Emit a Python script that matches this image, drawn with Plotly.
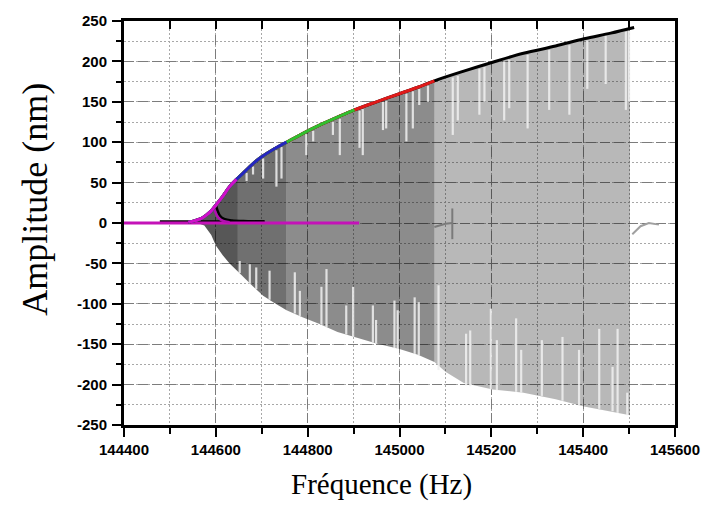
import numpy as np
import plotly.graph_objects as go

# ---------------- data ----------------
# Upper (stable) branch of the response curve: frequency (Hz) / amplitude (nm)
bb_freq = [144540, 144555, 144570, 144580, 144590, 144600, 144615, 144630, 144645,
           144660, 144680, 144700, 144725, 144754, 144790, 144826, 144865, 144902,
           144950, 145000, 145040, 145076, 145140, 145203, 145270, 145340, 145402,
           145460, 145511]
bb_amp = [1, 3, 6, 10, 15, 22, 33, 45, 54, 62, 73, 82, 91, 100, 111, 121, 131, 140,
          150, 160, 168, 176, 188, 199, 210, 219, 228, 235, 242]

# end frequency of each coloured sweep (drawn from longest to shortest)
sweep_names = ["black", "red", "green", "blue", "magenta"]
sweep_end = [145511, 145076, 144902, 144754, 144645]
sweep_colors = ["#000000", "#e01a1a", "#2fbf2f", "#2626c0", "#d010c8"]

# lower branches near zero
zero_magenta_f = [144400, 144912]
zero_magenta_a = [0, 0]
zero_black_f = [144478, 144706]
zero_black_a = [1.8, 1.8]
fork_black_f = [144600, 144604, 144609, 144618, 144635, 144670, 144706]
fork_black_a = [22, 15, 9, 5, 3, 2.2, 1.8]
fork_mag_f = [144596, 144600, 144605, 144614, 144630]
fork_mag_a = [18, 12, 7, 3, 1]

# envelope of the recorded time signal (grey area)
env_freq = [144560, 144575, 144590, 144600, 144615, 144630, 144648, 144660, 144680,
            144703, 144725, 144754, 144790, 144826, 144865, 144902, 144950, 145000,
            145040, 145076, 145100, 145140, 145203, 145270, 145340, 145402, 145460,
            145502]
env_upper = [3.5, 8, 15, 22, 33, 45, 55, 62, 73, 83, 91, 100, 111, 121, 131, 140,
             150, 160, 168, 176, 180, 188, 199, 210, 219, 228, 235, 241]
env_lower = [0, -3, -15, -28, -40, -50, -60, -66, -78, -90, -98, -108, -117, -125,
             -135, -141, -149, -156, -163, -172, -184, -198, -206, -210, -218, -227,
             -233, -238]
region_edges = [144560, 144648, 144754, 145076, 145502]
region_fill = ["rgba(0,0,0,0.66)", "rgba(0,0,0,0.56)", "rgba(0,0,0,0.45)",
               "rgba(0,0,0,0.28)"]

# white drop-outs in the signal, from the top edge
up_streak_f = [144667, 144681, 144703, 144732, 144743, 144797, 144812, 144855, 144870,
               144913, 144920, 144964, 144971, 145015, 145029, 145043, 145062, 145116,
               145127, 145174, 145185, 145228, 145239, 145279, 145326, 145370, 145409,
               145449, 145493, 145500]
up_streak_top = [62, 70, 80, 90, 94, 110, 114, 125, 129, 139, 141, 150, 151, 160, 163,
                 166, 170, 180, 182, 191, 193, 200, 202, 208, 214, 220, 226, 232, 237, 238]
up_streak_bot = [52, 60, 55, 45, 55, 84, 101, 109, 84, 93, 84, 115, 117, 101, 117,
                 146, 150, 109, 127, 134, 150, 127, 142, 117, 140, 134, 166, 172, 140, 150]
# white drop-outs from the bottom edge
lo_streak_f = [144652, 144674, 144688, 144717, 144772, 144783, 144830, 144841, 144884,
               144899, 144942, 144949, 144989, 144996, 145033, 145042, 145085, 145145,
               145154, 145199, 145212, 145254, 145265, 145310, 145355, 145391, 145435,
               145464, 145475, 145496]
lo_streak_top = [-47, -51, -55, -59, -61, -84, -79, -57, -102, -79, -102, -120, -96,
                 -108, -92, -98, -77, -137, -133, -106, -145, -118, -157, -145, -141,
                 -157, -131, -178, -131, -210]
lo_streak_bot = [-62, -75, -82, -95, -112, -115, -126, -129, -138, -141, -148, -149,
                 -155, -156, -162, -164, -182, -201, -202, -206, -207, -209, -210,
                 -214, -220, -226, -230, -233, -235, -238]

# small stray traces
stray1_f = [145076, 145100, 145115]
stray1_a = [-5, -1, 0]
stray2_f = [145115, 145115]
stray2_a = [18, -20]
stray3_f = [145507, 145525, 145543, 145565]
stray3_a = [-14, -4, 0, -2]

x_tick_vals = [144400, 144600, 144800, 145000, 145200, 145400, 145600]
y_tick_vals = [-250, -200, -150, -100, -50, 0, 50, 100, 150, 200, 250]

# ---------------- figure ----------------
fig = go.Figure()

ef = np.array(env_freq)
eu = np.array(env_upper)
el = np.array(env_lower)
for i in range(len(region_fill)):
    m = (ef >= region_edges[i]) & (ef <= region_edges[i + 1])
    xs = list(ef[m]) + list(ef[m][::-1])
    ys = list(eu[m]) + list(el[m][::-1])
    fig.add_trace(go.Scatter(x=xs, y=ys, mode="lines", fill="toself",
                             fillcolor=region_fill[i], line=dict(width=0),
                             hoverinfo="skip", showlegend=False))


def seg_xy(fs, tops, bots):
    xs, ys = [], []
    for f, t, b in zip(fs, tops, bots):
        xs += [f, f, None]
        ys += [t, b, None]
    return xs, ys


sx, sy = seg_xy(up_streak_f, up_streak_top, up_streak_bot)
fig.add_trace(go.Scatter(x=sx, y=sy, mode="lines",
                         line=dict(color="rgba(240,240,240,0.85)", width=2.2),
                         hoverinfo="skip", showlegend=False))
sx, sy = seg_xy(lo_streak_f, lo_streak_top, lo_streak_bot)
fig.add_trace(go.Scatter(x=sx, y=sy, mode="lines",
                         line=dict(color="rgba(240,240,240,0.85)", width=2.2),
                         hoverinfo="skip", showlegend=False))

for fx, fy, col in [(stray1_f, stray1_a, "#7a7a7a"), (stray2_f, stray2_a, "#7a7a7a"),
                    (stray3_f, stray3_a, "#a0a0a0")]:
    fig.add_trace(go.Scatter(x=fx, y=fy, mode="lines", line=dict(color=col, width=2),
                             hoverinfo="skip", showlegend=False))

# lower branches
fig.add_trace(go.Scatter(x=zero_black_f, y=zero_black_a, mode="lines",
                         line=dict(color="#000000", width=2.5), showlegend=False))
fig.add_trace(go.Scatter(x=fork_black_f, y=fork_black_a, mode="lines",
                         line=dict(color="#000000", width=2.5, shape="spline"),
                         showlegend=False))
fig.add_trace(go.Scatter(x=zero_magenta_f, y=zero_magenta_a, mode="lines",
                         line=dict(color="#c412b8", width=3), showlegend=False))
fig.add_trace(go.Scatter(x=fork_mag_f, y=fork_mag_a, mode="lines",
                         line=dict(color="#b010b0", width=2.5, shape="spline"),
                         showlegend=False))

bf = np.array(bb_freq)
ba = np.array(bb_amp)
for name, end, col in zip(sweep_names, sweep_end, sweep_colors):
    m = bf <= end
    fig.add_trace(go.Scatter(x=bf[m], y=ba[m], mode="lines", name=name,
                             line=dict(color=col, width=3, shape="spline"),
                             showlegend=False))

# invisible trace to carry the top axis
fig.add_trace(go.Scatter(x=[x_tick_vals[0]], y=[0], xaxis="x2", mode="markers",
                         marker=dict(opacity=0), hoverinfo="skip", showlegend=False))

tickfont = dict(family="Liberation Sans, Arial, sans-serif", size=15, color="black",
                weight="bold")

fig.update_layout(
    width=712, height=508,
    margin=dict(l=124, r=35, t=18, b=83),
    paper_bgcolor="white", plot_bgcolor="white",
    xaxis=dict(range=[144400, 145600], tickvals=x_tick_vals,
               ticktext=[str(v) for v in x_tick_vals],
               ticks="outside", ticklen=9, tickwidth=2, tickcolor="black",
               showline=True, linewidth=3, linecolor="black", mirror=True,
               showgrid=True, gridcolor="#7c7c7c", gridwidth=1, griddash="10px,4px",
               zeroline=False, tickfont=tickfont,
               minor=dict(dtick=100, tick0=144400, ticks="outside", ticklen=6,
                          tickwidth=2, tickcolor="black", showgrid=True,
                          gridcolor="#a8a8a8", griddash="2px,2px", gridwidth=1)),
    xaxis2=dict(range=[144400, 145600], overlaying="x", side="top", dtick=100,
                tick0=144400, ticks="inside", ticklen=8, tickwidth=2,
                tickcolor="black", showticklabels=False, showgrid=False,
                showline=False, zeroline=False),
    yaxis=dict(range=[-250, 250], tickvals=y_tick_vals,
               ticktext=[str(v) for v in y_tick_vals],
               ticks="outside", ticklen=9, tickwidth=2, tickcolor="black",
               showline=True, linewidth=3, linecolor="black", mirror=True,
               showgrid=True, gridcolor="#7c7c7c", gridwidth=1, griddash="10px,4px",
               zeroline=False, tickfont=tickfont, ticklabelstandoff=2,
               minor=dict(dtick=25, tick0=-250, ticks="outside", ticklen=5,
                          tickwidth=2, tickcolor="black", showgrid=True,
                          gridcolor="#a8a8a8", griddash="2px,2px", gridwidth=1)),
    annotations=[
        dict(text="Amplitude (nm)", textangle=-90, xref="paper", yref="paper",
             x=-0.163, y=0.558, xanchor="center", yanchor="middle", showarrow=False,
             font=dict(family="Liberation Serif, Times New Roman, serif", size=36,
                       color="black")),
        dict(text="Fréquence (Hz)", xref="paper", yref="paper",
             x=0.468, y=-0.147, xanchor="center", yanchor="middle", showarrow=False,
             font=dict(family="Liberation Serif, Times New Roman, serif", size=29,
                       color="black")),
    ],
)

fig.write_html(
    "out.html",
    config={"displayModeBar": False},
    post_script="document.body.style.margin='0';document.body.style.overflow='hidden';",
)
